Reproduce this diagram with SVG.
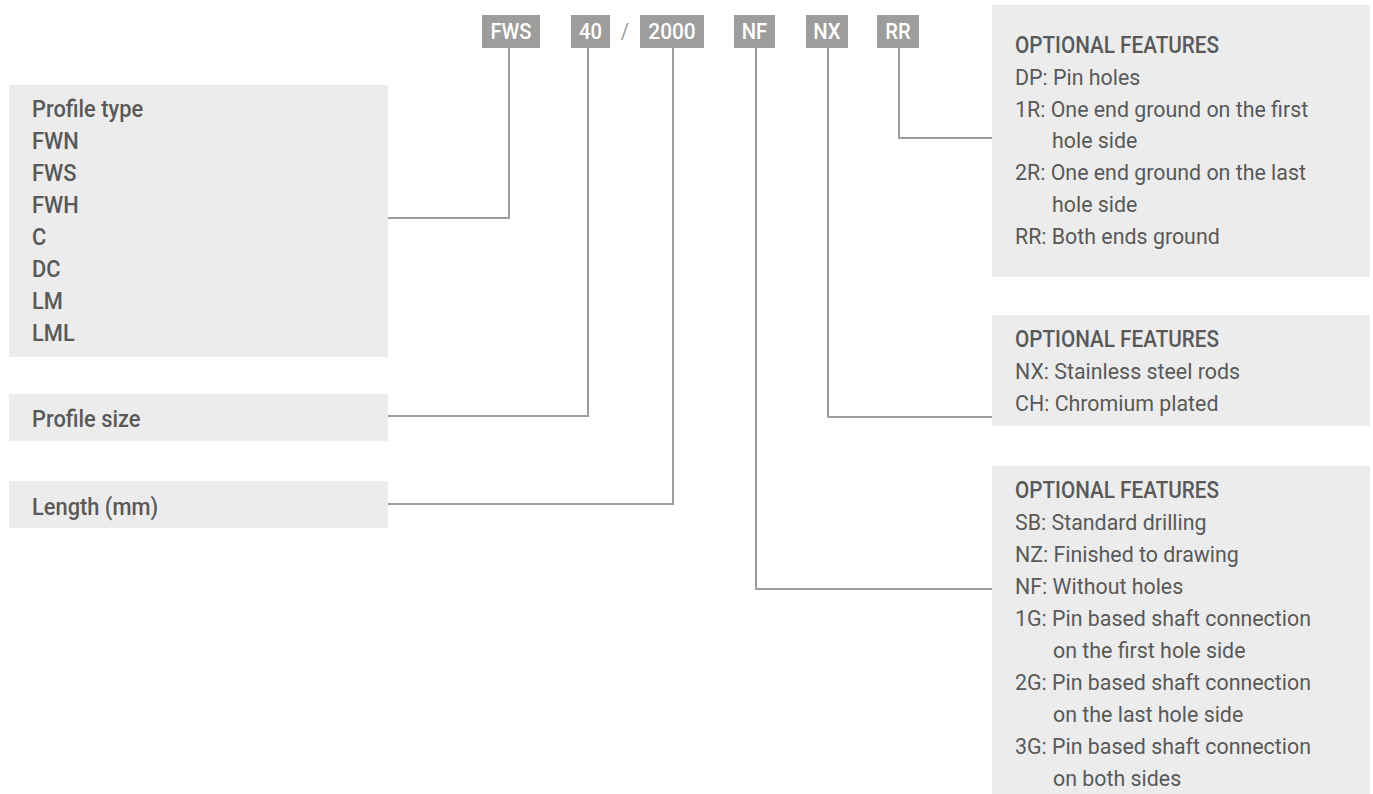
<svg xmlns="http://www.w3.org/2000/svg" width="1373" height="794" viewBox="0 0 1373 794">
<style>
.box{fill:#ececec}
.tag{fill:#9d9d9c}
.t{font-family:Roboto,"Liberation Sans",sans-serif;font-size:23px;fill:#595959}
.h{font-weight:500}
.tg{font-family:Roboto,"Liberation Sans",sans-serif;font-size:22px;fill:#ffffff;font-weight:500;text-anchor:middle}
.con{fill:none;stroke:#9d9d9c;stroke-width:2}
</style>
<rect width="1373" height="794" fill="#ffffff"/>
<g id="connectors">
<path class="con" d="M509,48 V218 H388"/>
<path class="con" d="M588,48 V416 H388"/>
<path class="con" d="M673,48 V504 H388"/>
<path class="con" d="M756,48 V589 H992"/>
<path class="con" d="M828,48 V417 H992"/>
<path class="con" d="M899,48 V138 H992"/>
</g>
<g id="tag-fws"><rect class="tag" x="482" y="15" width="58" height="33"/><g transform="translate(511,0) scale(0.92,1)"><text class="tg" x="0" y="39">FWS</text></g></g>
<g id="tag-40"><rect class="tag" x="571" y="15" width="39" height="33"/><g transform="translate(590.5,0) scale(0.92,1)"><text class="tg" x="0" y="39">40</text></g></g>
<g id="slash"><g transform="translate(625,0) scale(0.92,1)"><text class="tg" x="0" y="39" style="fill:#9d9d9c;font-weight:400">/</text></g></g>
<g id="tag-2000"><rect class="tag" x="640" y="15" width="64" height="33"/><g transform="translate(672,0) scale(0.95,1)"><text class="tg" x="0" y="39">2000</text></g></g>
<g id="tag-nf"><rect class="tag" x="734" y="15" width="41" height="33"/><g transform="translate(754.5,0) scale(0.92,1)"><text class="tg" x="0" y="39">NF</text></g></g>
<g id="tag-nx"><rect class="tag" x="806" y="15" width="42" height="33"/><g transform="translate(827,0) scale(0.92,1)"><text class="tg" x="0" y="39">NX</text></g></g>
<g id="tag-rr"><rect class="tag" x="877" y="15" width="42" height="33"/><g transform="translate(898,0) scale(0.92,1)"><text class="tg" x="0" y="39">RR</text></g></g>

<g id="profile-type"><rect class="box" x="9" y="85" width="379" height="272"/>
<g transform="translate(32,0) scale(0.95,1)" class="t h">
<text x="0" y="117">Profile type</text>
<text x="0" y="149">FWN</text>
<text x="0" y="181">FWS</text>
<text x="0" y="213">FWH</text>
<text x="0" y="245">C</text>
<text x="0" y="277">DC</text>
<text x="0" y="309">LM</text>
<text x="0" y="341">LML</text>
</g></g>
<g id="profile-size"><rect class="box" x="9" y="394" width="379" height="47"/>
<g transform="translate(32,0) scale(0.95,1)" class="t h"><text x="0" y="427">Profile size</text></g></g>
<g id="length"><rect class="box" x="9" y="481" width="379" height="47"/>
<g transform="translate(32,0) scale(0.95,1)" class="t h"><text x="0" y="515">Length (mm)</text></g></g>

<g id="opt-rr"><rect class="box" x="992" y="5" width="378" height="272"/>
<g transform="translate(1015,0) scale(0.9,1)" class="t h"><text x="0" y="53">OPTIONAL FEATURES</text></g>
<g transform="translate(1015,0) scale(0.93,1)" class="t">
<text x="0" y="85">DP: Pin holes</text>
<text x="0" y="117">1R: One end ground on the first</text>
<text x="39.8" y="148">hole side</text>
<text x="0" y="180">2R: One end ground on the last</text>
<text x="39.8" y="212">hole side</text>
<text x="0" y="244">RR: Both ends ground</text>
</g></g>
<g id="opt-nx"><rect class="box" x="992" y="315" width="378" height="111"/>
<g transform="translate(1015,0) scale(0.9,1)" class="t h"><text x="0" y="347">OPTIONAL FEATURES</text></g>
<g transform="translate(1015,0) scale(0.93,1)" class="t">
<text x="0" y="379">NX: Stainless steel rods</text>
<text x="0" y="411">CH: Chromium plated</text>
</g></g>
<g id="opt-nf"><rect class="box" x="992" y="466" width="378" height="328"/>
<g transform="translate(1015,0) scale(0.9,1)" class="t h"><text x="0" y="498">OPTIONAL FEATURES</text></g>
<g transform="translate(1015,0) scale(0.93,1)" class="t">
<text x="0" y="530">SB: Standard drilling</text>
<text x="0" y="562">NZ: Finished to drawing</text>
<text x="0" y="594">NF: Without holes</text>
<text x="0" y="626">1G: Pin based shaft connection</text>
<text x="40.9" y="658">on the first hole side</text>
<text x="0" y="690">2G: Pin based shaft connection</text>
<text x="40.9" y="722">on the last hole side</text>
<text x="0" y="754">3G: Pin based shaft connection</text>
<text x="40.9" y="786">on both sides</text>
</g></g>
</svg>
